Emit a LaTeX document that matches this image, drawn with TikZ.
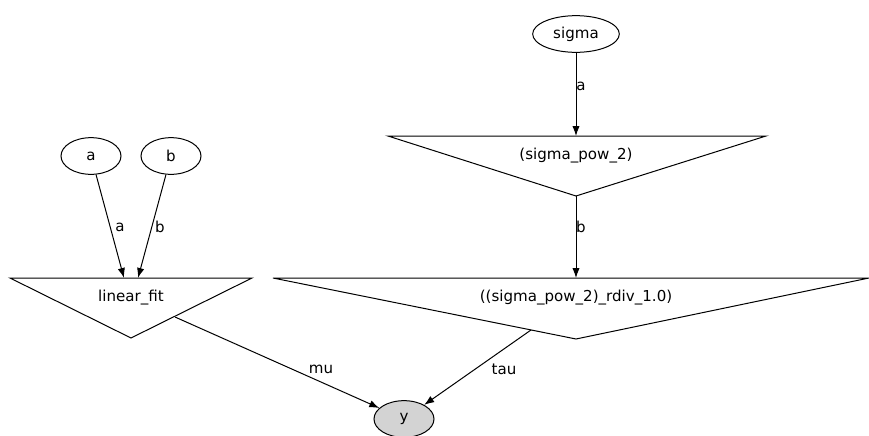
\documentclass[tikz,border=0pt]{standalone}
\usepackage{fontspec}
\setmainfont{DejaVu Sans}
\usetikzlibrary{shapes.geometric,arrows.meta}
\definecolor{gvgray}{RGB}{211,211,211}
\tikzset{
  x=0.75pt, y=-0.75pt,
  every node/.style={font=\fontsize{11.3}{13}\selectfont, inner sep=0pt},
  var/.style={draw, ellipse, line width=0.75pt, minimum width=#1, minimum height=27.5pt},
  var/.default=45pt,
  tri/.style={draw, line width=0.75pt, line join=miter},
  edge/.style={draw, line width=0.75pt, -{Latex[length=7.5pt,width=5.5pt]}},
  lab/.style={fill=none}
}
\begin{document}
\begin{tikzpicture}
\path[use as bounding box] (0,0) rectangle (869,436);
% triangles
\draw[tri] (10,278) -- (252,278) -- (131,338) -- cycle;
\draw[tri] (388,136) -- (766,136) -- (576,196) -- cycle;
\draw[tri] (273,278) -- (869,278) -- (576,339) -- cycle;
\node (lf) at (131,298) {linear\_fit};
\node (sp) at (576,156) {(sigma\_pow\_2)};
\node (rd) at (576,298) {((sigma\_pow\_2)\_rdiv\_1.0)};
% ellipses
\node[var=45pt] (a) at (91,156) {a};
\node[var=45pt] (b) at (171,156) {b};
\node[var=65pt] (sigma) at (576,34) {sigma};
\node[var=45pt, fill=gvgray] (y) at (404,419) {y};
% anchor points on triangles
\coordinate (lfa) at (124,278);
\coordinate (lfb) at (138,278);
\coordinate (lfout) at (175,317);
\coordinate (spin) at (576,136);
\coordinate (spout) at (576,196);
\coordinate (rdin) at (576,278);
\coordinate (rdout) at (531,330);
% edges
\draw[edge] (a) -- (lfa);
\draw[edge] (b) -- (lfb);
\draw[edge] (sigma) -- (spin);
\draw[edge] (spout) -- (rdin);
\draw[edge] (lfout) -- (y);
\draw[edge] (rdout) -- (y);
% edge labels
\node[lab] (la) at (120,227) {a};
\node[lab] (lb) at (160,227) {b};
\node[lab] (lsa) at (581,86) {a};
\node[lab] (lsb) at (581,227) {b};
\node[lab] (lmu) at (321,369) {mu};
\node[lab] (ltau) at (504,369) {tau};
\end{tikzpicture}
\end{document}
